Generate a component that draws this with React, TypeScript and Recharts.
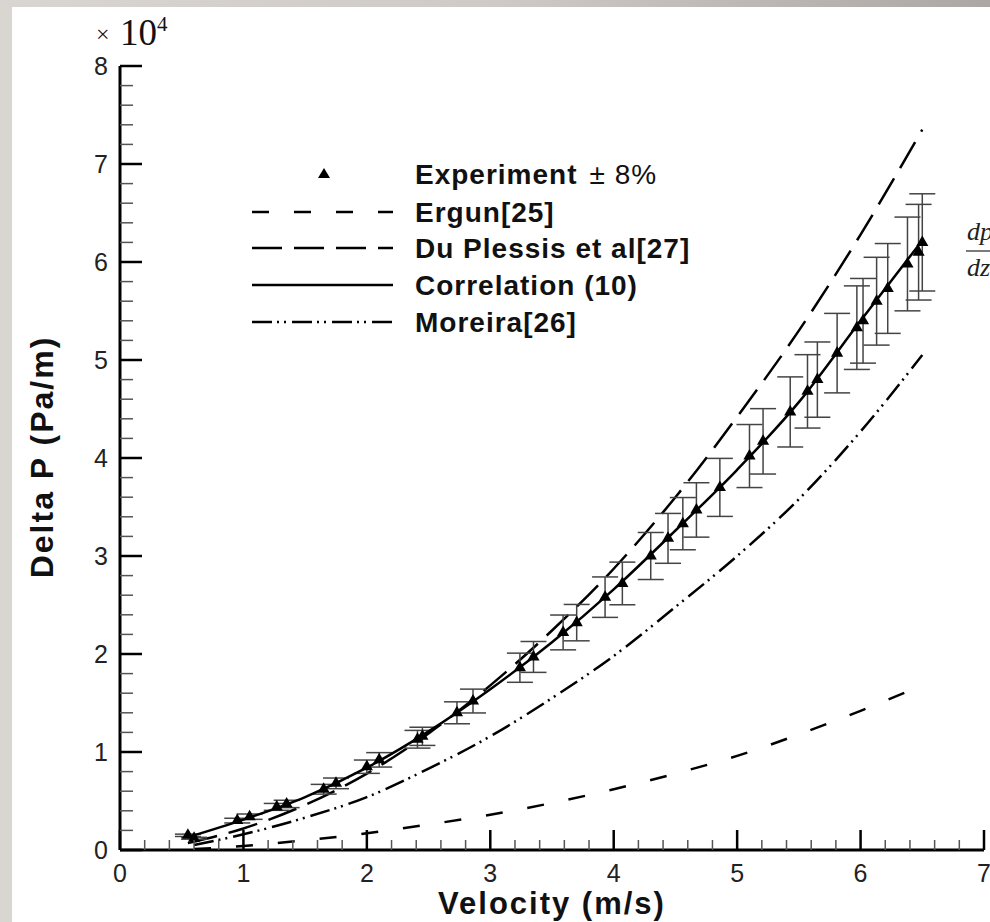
import React from 'react';
import { ComposedChart, Line, Scatter, ErrorBar, XAxis, YAxis, Legend } from 'recharts';

const SANS = '"Liberation Sans", Arial, Helvetica, sans-serif';
const SERIF = '"Liberation Serif", "Times New Roman", serif';

// velocity in m/s, pressure drop in x10^4 Pa/m
const expV = [0.55, 0.6, 0.95, 1.05, 1.27, 1.35, 1.65, 1.75, 2.0, 2.1, 2.41, 2.45, 2.73, 2.86, 3.24, 3.35, 3.59, 3.7, 3.93, 4.07, 4.3, 4.44, 4.56, 4.67, 4.86, 5.1, 5.21, 5.43, 5.57, 5.65, 5.81, 5.97, 6.02, 6.13, 6.22, 6.38, 6.47, 6.5];
const expY = [0.15, 0.12, 0.3, 0.34, 0.44, 0.47, 0.62, 0.68, 0.85, 0.92, 1.13, 1.16, 1.4, 1.52, 1.86, 1.97, 2.22, 2.32, 2.58, 2.72, 3.0, 3.18, 3.33, 3.47, 3.7, 4.02, 4.17, 4.47, 4.68, 4.8, 5.07, 5.33, 5.4, 5.6, 5.73, 5.98, 6.1, 6.2];

const ergunV = [0.6, 1.0, 1.5, 2.0, 2.5, 3.0, 3.5, 4.0, 4.5, 5.0, 5.5, 6.0, 6.5];
const ergunY = [0.01, 0.04, 0.1, 0.17, 0.26, 0.36, 0.48, 0.62, 0.78, 0.96, 1.18, 1.42, 1.68];

const plessisV = [0.55, 1.0, 1.5, 2.0, 2.5, 3.0, 3.5, 4.0, 4.5, 5.0, 5.5, 6.0, 6.5];
const plessisY = [0.07, 0.22, 0.46, 0.78, 1.19, 1.68, 2.24, 2.87, 3.6, 4.42, 5.3, 6.28, 7.35];

const corrV = [0.55, 1.0, 1.5, 2.0, 2.5, 3.0, 3.5, 4.0, 4.5, 5.0, 5.5, 6.0, 6.5];
const corrY = [0.13, 0.31, 0.54, 0.84, 1.21, 1.64, 2.12, 2.66, 3.26, 3.88, 4.57, 5.4, 6.22];

const moreiraV = [0.6, 1.0, 1.5, 2.0, 2.5, 3.0, 3.5, 4.0, 4.5, 5.0, 5.5, 6.0, 6.5];
const moreiraY = [0.05, 0.16, 0.33, 0.54, 0.83, 1.16, 1.55, 1.98, 2.48, 3.0, 3.58, 4.27, 5.05];

const xTicks = [0, 0.2, 0.4, 0.6, 0.8, 1, 1.2, 1.4, 1.6, 1.8, 2, 2.2, 2.4, 2.6, 2.8, 3, 3.2, 3.4, 3.6, 3.8, 4, 4.2, 4.4, 4.6, 4.8, 5, 5.2, 5.4, 5.6, 5.8, 6, 6.2, 6.4, 6.6, 6.8, 7];
const yTicks = [0, 0.2, 0.4, 0.6, 0.8, 1, 1.2, 1.4, 1.6, 1.8, 2, 2.2, 2.4, 2.6, 2.8, 3, 3.2, 3.4, 3.6, 3.8, 4, 4.2, 4.4, 4.6, 4.8, 5, 5.2, 5.4, 5.6, 5.8, 6, 6.2, 6.4, 6.6, 6.8, 7, 7.2, 7.4, 7.6, 7.8, 8];

const errorFraction = 0.08; // "Experiment ± 8%"

const legendNames = ['Experiment', 'Ergun[25]', 'Du Plessis et al[27]', 'Correlation (10)', 'Moreira[26]'];
const DASH_ERGUN = '17 25';
const DASH_PLESSIS = '30 12';
const DASH_MOREIRA = '20 5 2 5 2 6';

const toRows = (vs: number[], ys: number[]) => vs.map((v, i) => ({ v, y: ys[i] }));
const expData = expV.map((v, i) => ({ v, y: expY[i], err: expY[i] * errorFraction }));

const XTick = (props: any) => {
  const { x, y, payload } = props;
  const major = Number.isInteger(payload.value);
  const axisY = y - 14;
  return (
    <g>
      <line x1={x} x2={x} y1={axisY} y2={axisY - (major ? 20 : 10)} stroke={major ? '#000' : '#555'} strokeWidth={major ? 2.5 : 1.5} />
      {major && (
        <text x={x} y={y} dy="0.72em" textAnchor="middle" fontFamily={SANS} fontSize={25} fill="#222">
          {payload.value}
        </text>
      )}
    </g>
  );
};

const YTick = (props: any) => {
  const { x, y, payload } = props;
  const major = Number.isInteger(payload.value);
  const axisX = x + 12;
  return (
    <g>
      <line x1={axisX} x2={axisX + (major ? 22 : 13)} y1={y} y2={y} stroke={major ? '#000' : '#555'} strokeWidth={major ? 2.5 : 1.5} />
      {major && (
        <text x={x} y={y} dy="0.36em" textAnchor="end" fontFamily={SANS} fontSize={25} fill="#222">
          {payload.value}
        </text>
      )}
    </g>
  );
};

const renderLegend = () => {
  const rows = [24, 62, 98, 135, 172];
  const dashes = [null, DASH_ERGUN, DASH_PLESSIS, '', DASH_MOREIRA];
  return (
    <svg width={500} height={195}>
      {legendNames.map((name, i) => (
        <g key={name}>
          {i === 0 ? (
            <polygon points={`79,${rows[i] - 6} 85,${rows[i] + 4} 73,${rows[i] + 4}`} fill="#000" />
          ) : (
            <line x1={7} x2={148} y1={rows[i]} y2={rows[i]} stroke="#000" strokeWidth={2.5} strokeDasharray={dashes[i] || undefined} />
          )}
          <text x={170} y={rows[i] + 10} fontFamily={SANS} fontSize={28} fontWeight="bold" letterSpacing={1} fill="#111">
            {name}
            {i === 0 && <tspan fontWeight="normal" dx={12}>± 8%</tspan>}
          </text>
        </g>
      ))}
    </svg>
  );
};

export default function App() {
  return (
    <div style={{ position: 'absolute', left: 0, top: 0, width: 990, height: 922, overflow: 'hidden', background: 'linear-gradient(90deg, #d9d5d0 0%, #cfcac5 50%, #aca7a4 100%)' }}>
      <div style={{ position: 'absolute', left: 12, top: 7, right: 0, bottom: 0, background: '#fff' }} />
      <div style={{ position: 'absolute', left: 0, top: 0 }}>
        <ComposedChart width={990} height={922} margin={{ top: 66, right: 6, bottom: 32, left: 60 }}>
          <XAxis
            type="number"
            dataKey="v"
            domain={[0, 7]}
            ticks={xTicks}
            interval={0}
            height={40}
            tickSize={0}
            tickMargin={14}
            tickLine={false}
            axisLine={{ stroke: '#000', strokeWidth: 3 }}
            tick={<XTick />}
            allowDataOverflow
          />
          <YAxis
            type="number"
            dataKey="y"
            domain={[0, 8]}
            ticks={yTicks}
            interval={0}
            width={60}
            tickSize={0}
            tickMargin={12}
            tickLine={false}
            axisLine={{ stroke: '#000', strokeWidth: 3 }}
            tick={<YTick />}
            allowDataOverflow
          />
          <Legend
            layout="vertical"
            align="center"
            verticalAlign="middle"
            content={renderLegend}
            wrapperStyle={{ position: 'absolute', left: 245, top: 150, width: 500, height: 195 }}
          />
          <Line data={toRows(ergunV, ergunY)} dataKey="y" name={legendNames[1]} type="monotone" stroke="#000" strokeWidth={2.5} strokeDasharray={DASH_ERGUN} dot={false} activeDot={false} isAnimationActive={false} />
          <Line data={toRows(plessisV, plessisY)} dataKey="y" name={legendNames[2]} type="monotone" stroke="#000" strokeWidth={2.5} strokeDasharray={DASH_PLESSIS} dot={false} activeDot={false} isAnimationActive={false} />
          <Line data={toRows(moreiraV, moreiraY)} dataKey="y" name={legendNames[4]} type="monotone" stroke="#000" strokeWidth={2.5} strokeDasharray={DASH_MOREIRA} dot={false} activeDot={false} isAnimationActive={false} />
          <Scatter data={expData} dataKey="y" name={legendNames[0]} shape="triangle" fill="#000" isAnimationActive={false}>
            <ErrorBar dataKey="err" direction="y" width={13} stroke="#444" strokeWidth={1.5} isAnimationActive={false} />
          </Scatter>
          <Line data={toRows(corrV, corrY)} dataKey="y" name={legendNames[3]} type="monotone" stroke="#000" strokeWidth={2.5} dot={false} activeDot={false} isAnimationActive={false} />
        </ComposedChart>
      </div>
      <svg width={990} height={922} style={{ position: 'absolute', left: 0, top: 0, pointerEvents: 'none' }}>
        <text x={96} y={42} fontFamily={SERIF} fontSize={24} fill="#111">×</text>
        <text x={120} y={45} fontFamily={SERIF} fontSize={37} fill="#111">10</text>
        <text x={157} y={31} fontFamily={SERIF} fontSize={21} fill="#111">4</text>
        <text transform="translate(42,457) rotate(-90)" textAnchor="middle" dominantBaseline="central" fontFamily={SANS} fontSize={32} fontWeight="bold" letterSpacing={2} fill="#111">
          Delta P (Pa/m)
        </text>
        <text x={552} y={914} textAnchor="middle" fontFamily={SANS} fontSize={31} fontWeight="bold" letterSpacing={2} fill="#111">
          Velocity (m/s)
        </text>
        <text x={967} y={240} fontFamily={SERIF} fontStyle="italic" fontSize={26} fill="#222">dp</text>
        <line x1={966} x2={990} y1={251} y2={251} stroke="#222" strokeWidth={1.2} />
        <text x={967} y={276} fontFamily={SERIF} fontStyle="italic" fontSize={26} fill="#222">dz</text>
      </svg>
    </div>
  );
}
